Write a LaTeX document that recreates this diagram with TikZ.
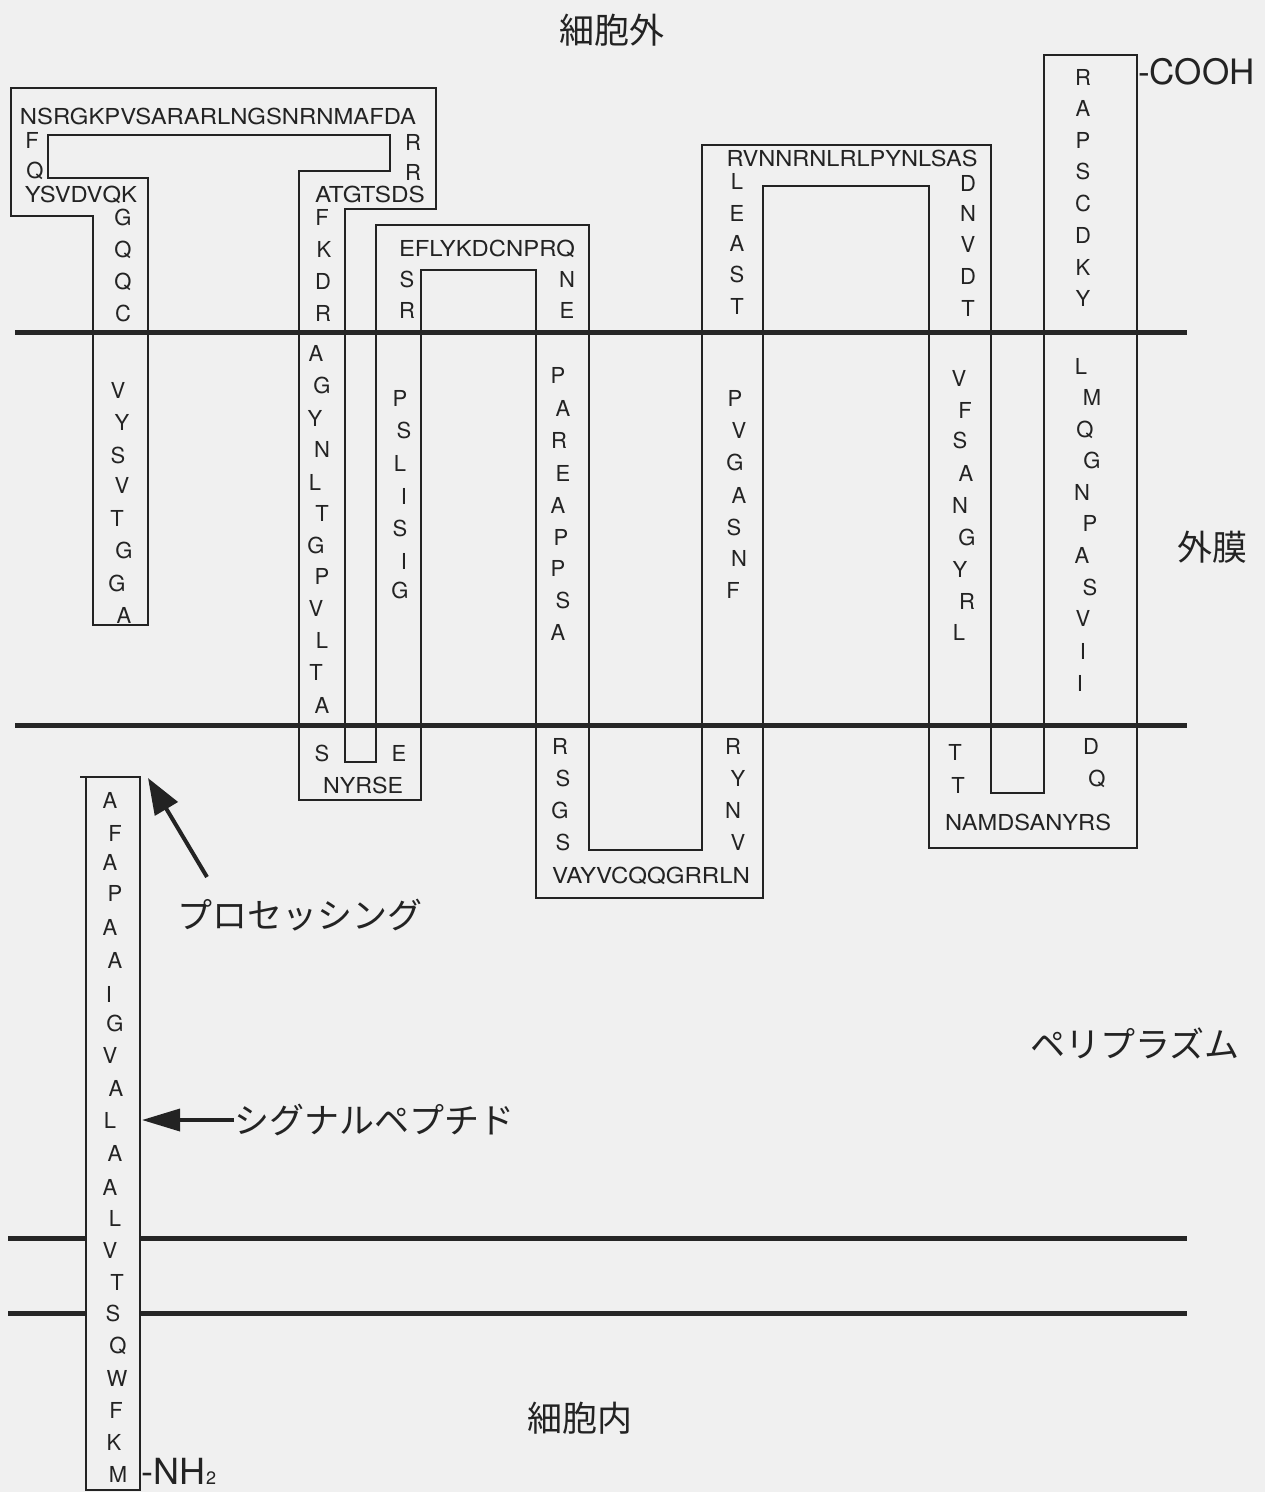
\documentclass[tikz,border=0pt]{standalone}
\usepackage{fontspec}
\usepackage{graphicx}
\setmainfont{TeX Gyre Heros}
\newfontfamily\jpfont{Noto Sans CJK JP}
\usetikzlibrary{arrows.meta}
\definecolor{bgc}{RGB}{240,240,240}
\definecolor{ink}{RGB}{35,35,35}
\newcommand\aafont{\fontsize{22}{22}\selectfont}
\newcommand\hseq[2]{\resizebox{#1pt}{\height}{#2}}
\begin{document}
\begin{tikzpicture}[x=1pt,y=-1pt,
  aa/.style={anchor=base,inner sep=0pt,font=\aafont,text=ink,yshift=-8pt},
  jp/.style={font=\jpfont\fontsize{35}{35}\selectfont,text=ink,inner sep=0pt},
  term/.style={anchor=base west,inner sep=0pt,text=ink},
  strand/.style={draw=ink,line width=1.4pt,line join=miter},
  membrane/.style={draw=black!85,line width=5pt},
  bigarrow/.style={draw=ink,line width=4pt,-{Triangle[length=36pt,width=26pt]}},
  sigarrow/.style={draw=ink,line width=3.5pt,-{Triangle[length=38pt,width=22pt]}}
]
\fill[bgc] (0,0) rectangle (1265,1492);
\useasboundingbox (0,0) rectangle (1265,1492);

% inner membrane
\draw[membrane] (8,1238) -- (1187,1238);
\draw[membrane] (8,1313) -- (1187,1313);

% mature chain outline
\draw[strand] (93,625) -- (93,216) -- (11,216) -- (11,88) -- (436,88) -- (436,209)
  -- (345,209) -- (345,762) -- (376,762) -- (376,225) -- (589,225) -- (589,850)
  -- (702,850) -- (702,145) -- (991,145) -- (991,793) -- (1044,793) -- (1044,55)
  -- (1137,55) -- (1137,848) -- (929,848) -- (929,186) -- (763,186) -- (763,898)
  -- (536,898) -- (536,270) -- (421,270) -- (421,800) -- (299,800) -- (299,171)
  -- (390,171) -- (390,135) -- (48,135) -- (48,178) -- (148,178) -- (148,625) -- cycle;

% signal peptide box
\filldraw[strand,fill=bgc] (86,1490) -- (86,777) -- (140,777) -- (140,1490) -- cycle;
\draw[strand] (80,777) -- (86,777);

% outer membrane
\draw[membrane] (15,332) -- (1187,332);
\draw[membrane] (15,725) -- (1187,725);

% single residues
\foreach \t/\x/\y [count=\i] in {
  F/32/140, Q/35/170, R/413/142, R/413/172,
  G/123/217, Q/123/249, Q/123/281, C/123/313,
  V/118/390, Y/122/422, S/118/455, V/122/485, T/117/518, G/124/550, G/117/583, A/124/615,
  F/322/217, K/324/249, D/323/281, R/323/313,
  A/316/353, G/322/385, Y/315/418, N/322/449, L/315/482, T/322/513, G/316/545, P/322/576,
  V/316/608, L/322/640, T/316/672, A/322/705, S/322/753,
  S/407/279, R/407/310, N/567/279, E/567/310,
  P/400/398, S/404/430, L/400/463, I/404/496, S/400/528, I/404/561, G/400/590, E/399/753,
  P/558/375, A/563/408, R/559/440, E/563/473, A/558/505, P/561/537, P/558/568, S/563/600, A/558/632,
  R/560/746, S/563/778, G/560/810, S/563/842,
  P/735/398, V/739/430, G/735/462, A/739/495, S/734/527, N/739/558, F/733/590,
  R/733/746, Y/738/778, N/733/810, V/738/842,
  L/737/181, E/737/213, A/737/243, S/737/274, T/737/306,
  D/968/183, N/968/213, V/968/244, D/968/276, T/968/308,
  R/1083/77, A/1083/108, P/1083/140, S/1083/171, C/1083/203, D/1083/235, K/1083/267, Y/1083/298,
  L/1081/366, M/1092/397, Q/1085/429, G/1092/460, N/1082/492, P/1090/523, A/1082/555, S/1090/587,
  V/1083/618, I/1083/651, I/1080/683,
  D/1091/746, Q/1097/778,
  V/959/378, F/965/410, S/960/440, A/966/473, N/960/505, G/967/537, Y/960/569, R/967/601, L/959/632,
  T/955/752, T/958/785,
  A/110/800, F/115/833, A/110/862, P/115/893, A/110/927, A/115/960, I/109/994, G/115/1023,
  V/110/1055, A/116/1088, L/110/1120, A/115/1153, A/110/1187, L/115/1218, V/110/1250, T/117/1282,
  S/113/1313, Q/118/1345, W/117/1378, F/116/1410, K/114/1442, M/118/1474}
  \node[aa] (r\i) at (\x,\y) {\t};

% horizontal runs
\node[aa] (h1) at (218,116) {\hseq{396}{NSRGKPVSARARLNGSNRNMAFDA}};
\node[aa] (h2) at (81,194) {\hseq{112}{YSVDVQK}};
\node[aa] (h3) at (370,194) {\hseq{110}{ATGTSDS}};
\node[aa] (h4) at (487,248) {\hseq{176}{EFLYKDCNPRQ}};
\node[aa] (h5) at (363,785) {\hseq{80}{NYRSE}};
\node[aa] (h6) at (651,875) {\hseq{198}{VAYVCQQGRRLN}};
\node[aa] (h7) at (852,158) {\hseq{251}{RVNNRNLRLPYNLSAS}};
\node[aa] (h8) at (1028,822) {\hseq{166}{NAMDSANYRS}};

% termini
\node[term,font=\fontsize{35}{35}\selectfont] (cooh) at (1138,84) {-COOH};
\node[term,font=\fontsize{36}{36}\selectfont] (nh2) at (141,1484)
  {-NH\kern 1pt{\fontsize{18}{18}\selectfont 2}};

% region labels
\node[jp] (ext) at (612,30) {細胞外};
\node[jp] (om) at (1212,547) {外膜};
\node[jp] (peri) at (1135,1043) {ペリプラズム};
\node[jp] (intr) at (580,1418) {細胞内};
\node[jp] (proc) at (300,915) {プロセッシング};
\node[jp,anchor=west] (sig) at (234,1120) {シグナルペプチド};

% arrows
\coordinate (proctail) at (207,877);
\coordinate (proctip) at (148,778);
\coordinate (sigtip) at (142,1120);
\draw[bigarrow] (proctail) -- (proctip);
\draw[sigarrow] (sig.west) -- (sigtip);
\end{tikzpicture}
\end{document}
